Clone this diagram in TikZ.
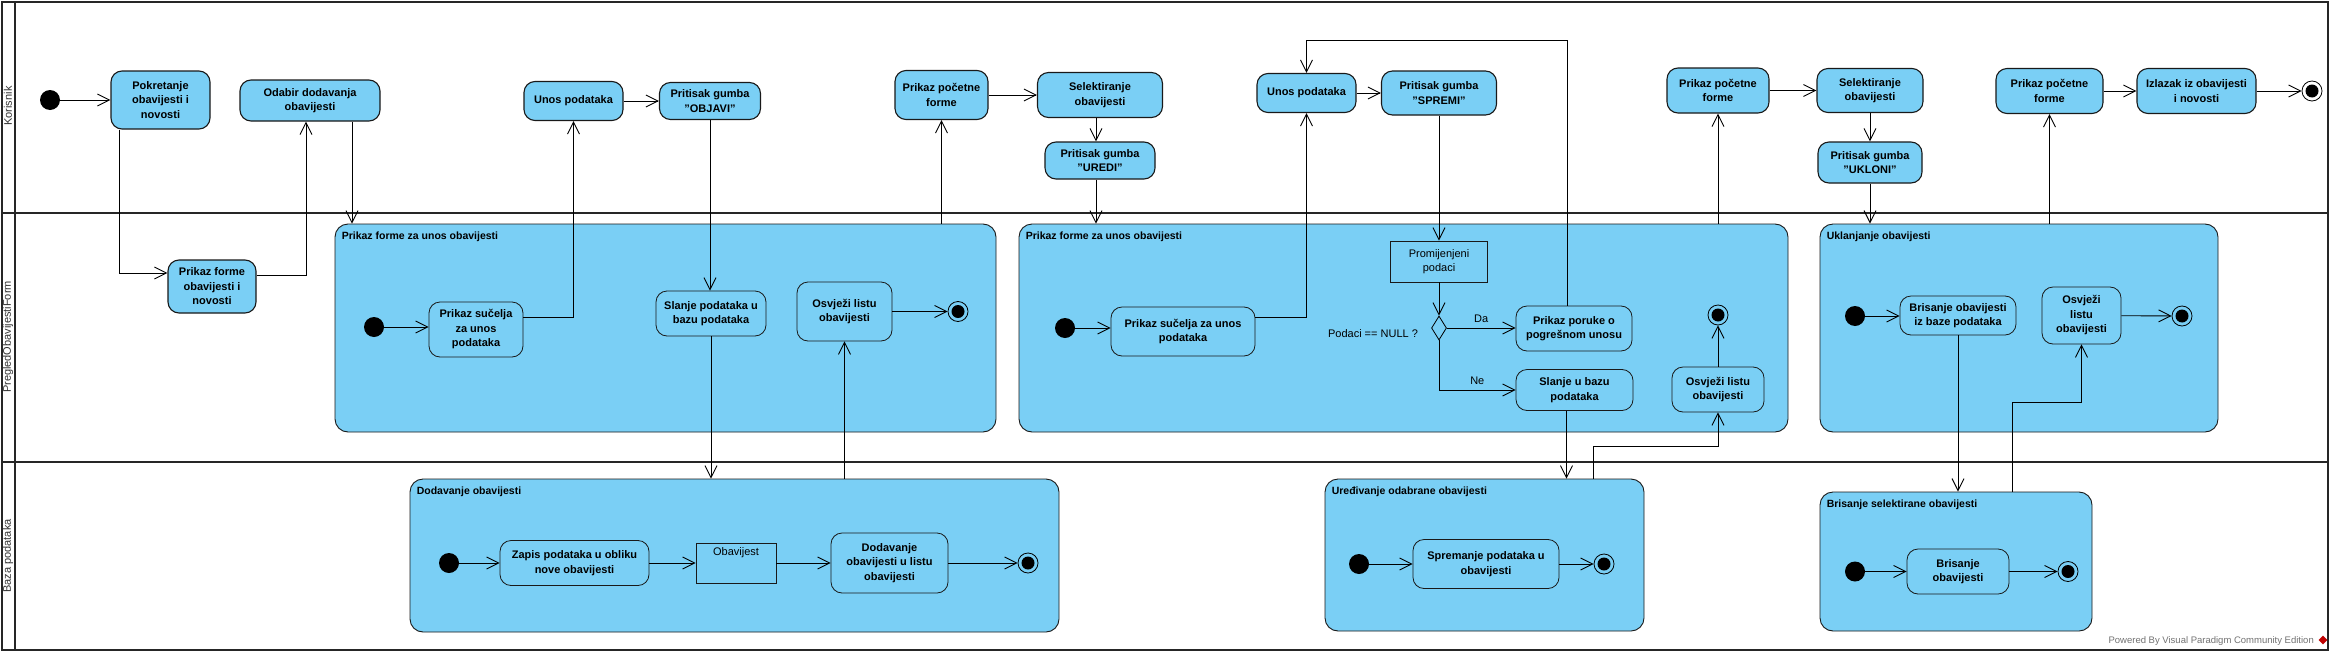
\documentclass[tikz,border=0pt]{standalone}
\usepackage{fontspec}
\setmainfont{Liberation Sans}
\usetikzlibrary{shapes.geometric,arrows.meta,calc}
\definecolor{vpblue}{RGB}{122,207,245}
\begin{document}
\begin{tikzpicture}[x=1pt,y=-1pt]
\tikzstyle{lane}=[draw=black!85,line width=2pt]
\tikzstyle{lanelabel}=[rotate=90,font=\fontsize{11}{13}\selectfont,text=black!80]
\tikzstyle{action}=[rectangle,rounded corners=11pt,fill=vpblue,draw=black!90,line width=1.1pt,font=\bfseries\fontsize{11}{14.5}\selectfont,align=center,inner sep=2pt]
\tikzstyle{subaction}=[action,line width=0.8pt]
\tikzstyle{group}=[rectangle,rounded corners=13pt,fill=vpblue,draw=black!90,line width=0.9pt]
\tikzstyle{grouptitle}=[anchor=west,font=\bfseries\fontsize{10.5}{12}\selectfont,inner sep=0pt]
\tikzstyle{object}=[rectangle,fill=vpblue,draw=black!90,line width=0.8pt,font=\fontsize{11}{14.5}\selectfont,align=center]
\tikzstyle{initial}=[circle,fill=black,minimum size=20pt,inner sep=0pt]
\tikzstyle{final}=[circle,draw=black,line width=0.8pt,minimum size=20pt,inner sep=0pt,path picture={\fill[black] (path picture bounding box.center) circle (6.5pt);}]
\tikzstyle{decision}=[diamond,fill=vpblue,draw=black,line width=0.8pt,minimum width=15pt,minimum height=24pt,inner sep=0pt]
\tikzstyle{guard}=[font=\fontsize{11}{13}\selectfont,inner sep=1pt]
\tikzstyle{arr}=[-{Straight Barb[length=12pt,width=12pt]},line width=0.9pt]
\useasboundingbox (0,0) rectangle (2335,656);
\fill[white] (0,0) rectangle (2335,656);
\draw[lane] (1.5,1.5) rectangle (2327.5,650);
\draw[lane] (1.5,212.5) -- (2327.5,212.5);
\draw[lane] (1.5,462) -- (2327.5,462);
\draw[lane] (14.5,1.5) -- (14.5,650);
\node[lanelabel] (korisnik) at (8,106) {Korisnik};
\node[lanelabel] (forma) at (8,337) {PregledObavijestiForm};
\node[lanelabel] (baza) at (8,556) {Baza podataka};

\node[group,minimum width=661pt,minimum height=208pt] (unosForme1) at (665.5,328) {};
\node[group,minimum width=769pt,minimum height=208pt] (unosForme2) at (1403.5,328) {};
\node[group,minimum width=398pt,minimum height=208pt] (uklanjanje) at (2019,328) {};
\node[group,minimum width=649pt,minimum height=153pt] (dodavanje) at (734.5,555.5) {};
\node[group,minimum width=319pt,minimum height=152pt] (uredivanje) at (1484.5,555) {};
\node[group,minimum width=272pt,minimum height=139pt] (brisanje) at (1956,561.5) {};
\node[grouptitle] (naslov1) at ($(unosForme1.north west)+(7,13)$) {Prikaz forme za unos obavijesti};
\node[grouptitle] (naslov2) at ($(unosForme2.north west)+(7,13)$) {Prikaz forme za unos obavijesti};
\node[grouptitle] (naslov3) at ($(uklanjanje.north west)+(7,13)$) {Uklanjanje obavijesti};
\node[grouptitle] (naslov4) at ($(dodavanje.north west)+(7,13)$) {Dodavanje obavijesti};
\node[grouptitle] (naslov5) at ($(uredivanje.north west)+(7,13)$) {Uređivanje odabrane obavijesti};
\node[grouptitle] (naslov6) at ($(brisanje.north west)+(7,13)$) {Brisanje selektirane obavijesti};

\node[initial] (initK) at (50,100) {};
\node[action,minimum width=99pt,minimum height=58pt] (pokretanje) at (160.5,100) {Pokretanje\\obavijesti i\\novosti};
\node[action,minimum width=140pt,minimum height=41pt] (odabir) at (310,100.5) {Odabir dodavanja\\obavijesti};
\node[action,minimum width=99pt,minimum height=39pt] (unos1) at (573.5,101) {Unos podataka};
\node[action,minimum width=101pt,minimum height=37pt] (objavi) at (710,101) {Pritisak gumba\\"OBJAVI"};
\node[action,minimum width=93pt,minimum height=49pt] (pocetna1) at (941.5,95) {Prikaz početne\\forme};
\node[action,minimum width=125pt,minimum height=45pt] (selekt1) at (1100,95) {Selektiranje\\obavijesti};
\node[action,minimum width=110pt,minimum height=37pt] (uredi) at (1100,160.5) {Pritisak gumba\\"UREDI"};
\node[action,minimum width=99pt,minimum height=39pt] (unos2) at (1306.5,93) {Unos podataka};
\node[action,minimum width=115pt,minimum height=44pt] (spremi) at (1439,93) {Pritisak gumba\\"SPREMI"};
\node[action,minimum width=102pt,minimum height=45pt] (pocetna2) at (1718,90.5) {Prikaz početne\\forme};
\node[action,minimum width=106pt,minimum height=44pt] (selekt2) at (1870,90.5) {Selektiranje\\obavijesti};
\node[action,minimum width=104pt,minimum height=41pt] (ukloni) at (1870,162.5) {Pritisak gumba\\"UKLONI"};
\node[action,minimum width=107pt,minimum height=45pt] (pocetna3) at (2049.5,91) {Prikaz početne\\forme};
\node[action,minimum width=119pt,minimum height=45pt] (izlazak) at (2196.5,91) {Izlazak iz obavijesti\\i novosti};
\node[final] (finK) at (2312,91) {};

\node[action,minimum width=88pt,minimum height=53pt] (prikazForme) at (212,286.5) {Prikaz forme\\obavijesti i\\novosti};
\node[initial] (init1) at (374,327) {};
\node[subaction,minimum width=94pt,minimum height=55pt] (sucelje1) at (476,329.5) {Prikaz sučelja\\za unos\\podataka};
\node[subaction,minimum width=110pt,minimum height=45pt] (slanje1) at (711,313.5) {Slanje podataka u\\bazu podataka};
\node[subaction,minimum width=95pt,minimum height=59pt] (osvjezi1) at (844.5,311.5) {Osvježi listu\\obavijesti};
\node[final] (fin1) at (958,311.5) {};
\node[initial] (init2) at (1065,328) {};
\node[subaction,minimum width=144pt,minimum height=49pt] (sucelje2) at (1183,331.5) {Prikaz sučelja za unos\\podataka};
\node[object,minimum width=97pt,minimum height=41pt] (promijenjeni) at (1439,261.5) {Promijenjeni\\podaci};
\node[decision] (provjera) at (1439,328) {};
\node[guard] (uvjet) at (1373,334) {Podaci == NULL ?};
\node[subaction,minimum width=116pt,minimum height=45pt] (poruka) at (1574,328.5) {Prikaz poruke o\\pogrešnom unosu};
\node[subaction,minimum width=117pt,minimum height=41pt] (slanje2) at (1574.5,390) {Slanje u bazu\\podataka};
\node[subaction,minimum width=92pt,minimum height=45pt] (osvjezi2) at (1718,389.5) {Osvježi listu\\obavijesti};
\node[final] (fin2) at (1718,315) {};
\node[initial] (init3) at (1855,316) {};
\node[subaction,minimum width=116pt,minimum height=39pt] (brisanje1) at (1958,315.5) {Brisanje obavijesti\\iz baze podataka};
\node[subaction,minimum width=79pt,minimum height=57pt] (osvjezi3) at (2081.5,315.5) {Osvježi\\listu\\obavijesti};
\node[final] (fin3) at (2182,316) {};

\node[initial] (initD) at (449,563) {};
\node[subaction,minimum width=149pt,minimum height=45pt] (zapis) at (574.5,563) {Zapis podataka u obliku\\nove obavijesti};
\node[object,minimum width=80pt,minimum height=40pt,text height=9pt,text depth=25pt,inner ysep=3pt] (obavijest) at (736,563) {Obavijest};
\node[subaction,minimum width=117pt,minimum height=60pt] (dodavanjeListe) at (889.5,563) {Dodavanje\\obavijesti u listu\\obavijesti};
\node[final] (finD) at (1028,563) {};
\node[initial] (initU) at (1359,564) {};
\node[subaction,minimum width=146pt,minimum height=49pt] (spremanje) at (1486,564) {Spremanje podataka u\\obavijesti};
\node[final] (finU) at (1604,564) {};
\node[initial] (initB) at (1855,571.5) {};
\node[subaction,minimum width=102pt,minimum height=45pt] (brisanje2) at (1958,571.5) {Brisanje\\obavijesti};
\node[final] (finB) at (2068,571.5) {};

\node[anchor=east,font=\fontsize{9.5}{11}\selectfont,text=black!55,inner sep=0pt] (potpis) at (2314,641) {Powered By Visual Paradigm Community Edition};
\node[diamond,fill=red!75!black,minimum size=9pt,inner sep=0pt] (logo) at (2323,640) {};

\draw[arr] (initK) -- (pokretanje);
\draw[arr] ([xshift=-41.5pt]pokretanje.south) |- ([yshift=13.5pt]prikazForme.west);
\draw[arr] ([yshift=11.5pt]prikazForme.east) -| ([xshift=-4pt]odabir.south);
\draw[arr] ([xshift=42pt]odabir.south) -- ($(odabir.south |- unosForme1.north)+(42,0)$);
\draw[arr] (init1) -- (init1 -| sucelje1.west);
\draw[arr] ([yshift=12.5pt]sucelje1.east) -| (unos1.south);
\draw[arr] (unos1) -- (objavi);
\draw[arr] (objavi.south) -- (objavi.south |- slanje1.north);
\draw[arr] (slanje1.south) -- (slanje1.south |- dodavanje.north);
\draw[arr] (osvjezi1.south |- dodavanje.north) -- (osvjezi1.south);
\draw[arr] (osvjezi1) -- (fin1);
\draw[arr] (pocetna1.south |- unosForme1.north) -- (pocetna1.south);
\draw[arr] (pocetna1) -- (selekt1);
\draw[arr] ([xshift=-4pt]selekt1.south) -- ([xshift=-4pt]uredi.north);
\draw[arr] ([xshift=-4pt]uredi.south) -- ($(uredi.south |- unosForme2.north)+(-4,0)$);
\draw[arr] (init2) -- (init2 -| sucelje2.west);
\draw[arr] ([yshift=14.5pt]sucelje2.east) -| (unos2.south);
\draw[arr] (unos2) -- (spremi);
\draw[arr] (spremi.south) -- (promijenjeni.north);
\draw[arr] (promijenjeni.south) -- (provjera.north);
\draw[arr] (provjera.east) -- (provjera.east -| poruka.west) node[guard,midway,above=4pt] (da) {Da};
\draw[arr] (provjera.south) |- (slanje2.west) node[guard,pos=0.75,above=4pt] (ne) {Ne};
\draw[arr] ([xshift=-7pt]poruka.north) |- ($(unos2.north)+(0,-33)$) -- (unos2.north);
\draw[arr] ([xshift=-8pt]slanje2.south) -- ($(slanje2.south |- uredivanje.north)+(-8,0)$);
\draw[arr] ($(uredivanje.north)+(108.5,0)$) |- ($(osvjezi2.south)+(0,34)$) -- (osvjezi2.south);
\draw[arr] (osvjezi2) -- (fin2);
\draw[arr] (pocetna2.south |- unosForme2.north) -- (pocetna2.south);
\draw[arr] (pocetna2) -- (selekt2);
\draw[arr] (selekt2) -- (ukloni);
\draw[arr] (ukloni.south) -- (ukloni.south |- uklanjanje.north);
\draw[arr] (init3) -- (init3 -| brisanje1.west);
\draw[arr] (brisanje1.south) -- (brisanje1.south |- brisanje.north);
\draw[arr] ($(brisanje.north)+(56,0)$) |- ($(osvjezi3.south)+(0,58)$) -- (osvjezi3.south);
\draw[arr] (osvjezi3) -- (fin3);
\draw[arr] (pocetna3.south |- uklanjanje.north) -- (pocetna3.south);
\draw[arr] (pocetna3) -- (izlazak);
\draw[arr] (izlazak) -- (finK);
\draw[arr] (initD) -- (zapis);
\draw[arr] (zapis) -- (obavijest);
\draw[arr] (obavijest) -- (dodavanjeListe);
\draw[arr] (dodavanjeListe) -- (finD);
\draw[arr] (initU) -- (spremanje);
\draw[arr] (spremanje) -- (finU);
\draw[arr] (initB) -- (brisanje2);
\draw[arr] (brisanje2) -- (finB);
\end{tikzpicture}
\end{document}
